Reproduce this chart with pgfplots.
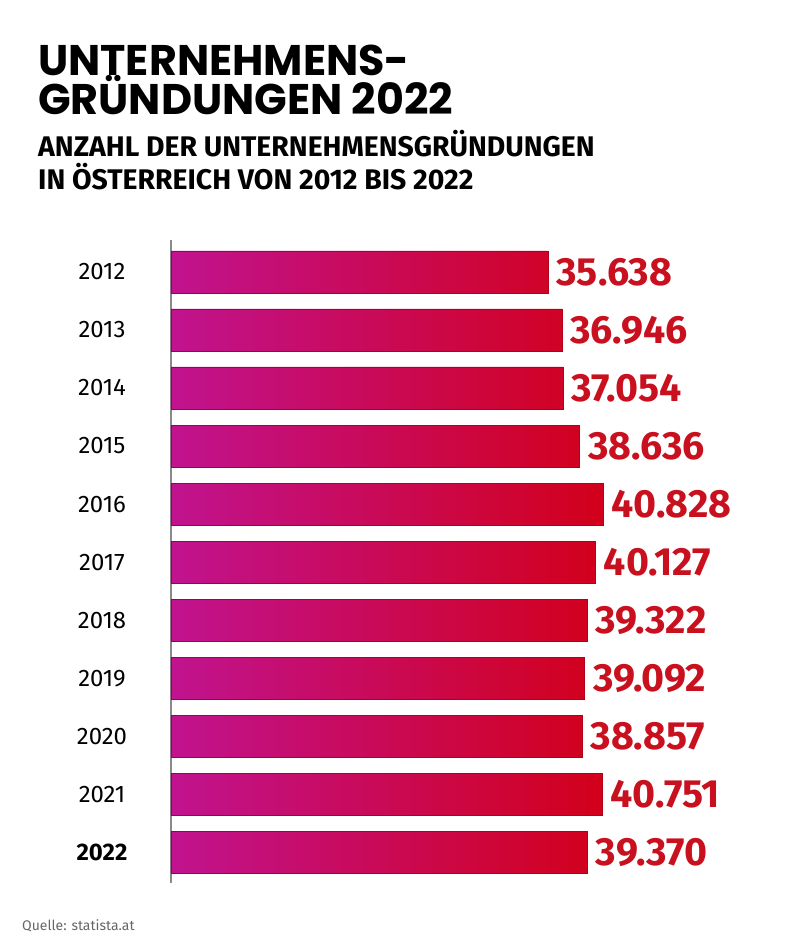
\documentclass[border=0pt]{standalone}
\usepackage{fontspec}
\setmainfont{Fira Sans}
\newfontfamily\titlefont{Poppins}
\usepackage{pgfplots}
\pgfplotsset{compat=1.18}
\usetikzlibrary{calc}
\definecolor{barL}{HTML}{C1138F}
\definecolor{barR}{HTML}{D2001A}
\definecolor{valred}{HTML}{C8101E}
\definecolor{axgray}{HTML}{8A8A8A}
\begin{document}
\begin{tikzpicture}
\begin{axis}[
    name=ax,
    scale only axis,
    width=476bp, height=643bp,
    xbar,
    bar width=42bp,
    xmin=0, xmax=45000,
    ymin=-0.55, ymax=10.53,
    y dir=reverse,
    hide x axis,
    axis y line*=left,
    y axis line style={axgray, line width=1.2bp, -},
    ytick={0,...,10},
    yticklabels={2012,2013,2014,2015,2016,2017,2018,2019,2020,2021,\textbf{2022}},
    major tick length=0pt,
    yticklabel style={font=\fontsize{24}{24}\selectfont, anchor=center, xshift=-69bp},
    nodes near coords,
    nodes near coords align={horizontal},
    every node near coord/.append style={
        font=\bfseries\fontsize{39.5}{40}\selectfont, text=valred, xshift=5bp,
        /pgf/number format/assume math mode=true,
        /pgf/number format/fixed,
        /pgf/number format/precision=0,
        /pgf/number format/1000 sep={.}},
    ]
    \addplot[draw=barR!85!black, line width=0.4bp, left color=barL, right color=barR] coordinates {
        (35638,0)
        (36946,1)
        (37054,2)
        (38636,3)
        (40828,4)
        (40127,5)
        (39322,6)
        (39092,7)
        (38857,8)
        (40751,9)
        (39370,10)
    };
\end{axis}
% image top-left corner: axis top-left sits at (171,240) px
\coordinate (O) at ($(ax.north west)+(-171bp,240bp)$);
\path[use as bounding box] (O) rectangle ($(O)+(800bp,-946bp)$);
% titles
\node[anchor=base west, inner sep=0] at ($(O)+(38bp,-76bp)$) {\titlefont\bfseries\fontsize{43}{46}\selectfont UNTERNEHMENS-};
\node[anchor=base west, inner sep=0] at ($(O)+(38bp,-115bp)$) {\titlefont\bfseries\fontsize{43}{46}\selectfont GRÜNDUNGEN 2022};
\node[anchor=base west, inner sep=0] at ($(O)+(38bp,-157bp)$) {\bfseries\fontsize{28.5}{30}\selectfont ANZAHL DER UNTERNEHMENSGRÜNDUNGEN};
\node[anchor=base west, inner sep=0] at ($(O)+(38bp,-190bp)$) {\bfseries\fontsize{28.5}{30}\selectfont IN ÖSTERREICH VON 2012 BIS 2022};
\node[anchor=base west, inner sep=0, text=black!60] at ($(O)+(22bp,-930bp)$) {\fontsize{14}{16}\selectfont Quelle: statista.at};
\end{tikzpicture}
\end{document}
